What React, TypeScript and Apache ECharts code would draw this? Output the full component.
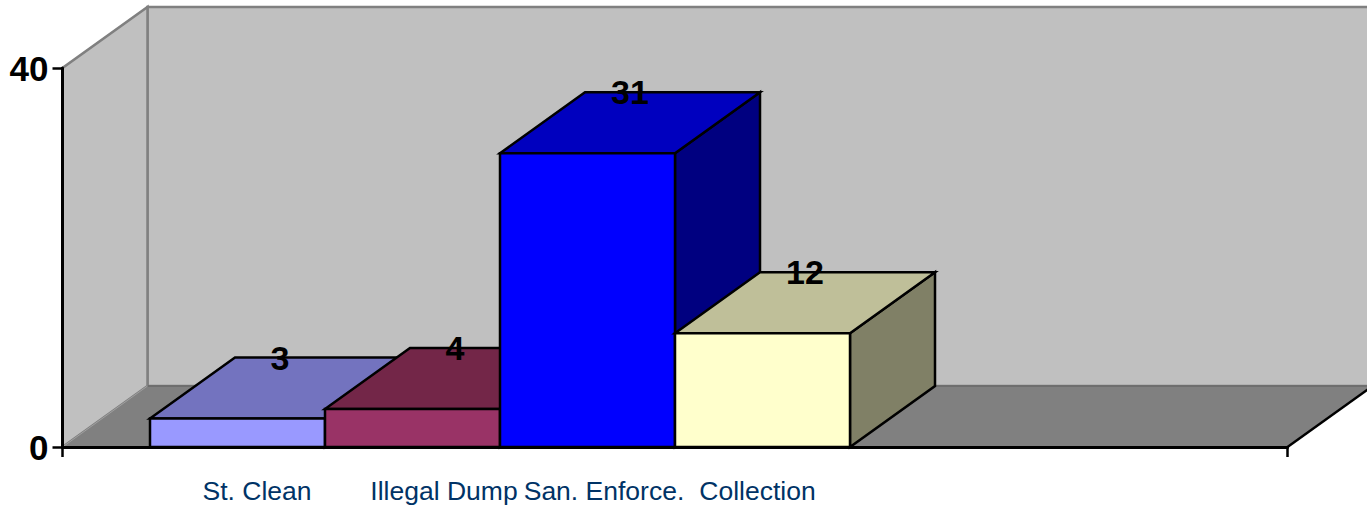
import React, { useEffect, useRef } from "react";
import * as echarts from "echarts";

// Complaint counts by program area
const categories = ["St. Clean", "Illegal Dump", "San. Enforce.", "Collection"];
const counts = [3, 4, 31, 12];
const yTickStep = 40;
const yMax = 40;
const xSlots = 7;

// Face colours of each column: front, top, side
const frontColors = ["#9999FF", "#993366", "#0000FF", "#FFFFCC"];
const topColors = ["#7373BF", "#732648", "#0000BF", "#BFBF99"];
const sideColors = ["#4D4D80", "#4D1A33", "#000080", "#808066"];

// Horizontal shift of each caption from its column centre, in pixels
const captionShifts = [19.5, 31.5, 16.5, -5];

// Oblique projection of the box: how far the back plane sits from the front plane
const DEPTH_X = 85;
const DEPTH_Y = 61;
const FONT = "'Liberation Sans', Arial, sans-serif";

function back(p: number[]) {
  return [p[0] + DEPTH_X, p[1] - DEPTH_Y];
}

function renderWalls(_: any, api: any) {
  const o = api.coord([0, 0]);
  const t = api.coord([0, yMax]);
  const r = api.coord([xSlots, 0]);
  const bo = back(o);
  const bt = back(t);
  const br = back(r);
  const brt = back(api.coord([xSlots, yMax]));
  const wall = { fill: "#C0C0C0", stroke: "#808080", lineWidth: 2.5 };
  return {
    type: "group",
    children: [
      { type: "polygon", shape: { points: [bo, bt, brt, br] }, style: wall },
      { type: "polygon", shape: { points: [o, t, bt, bo] }, style: wall },
      { type: "polygon", shape: { points: [o, bo, br, r] }, style: { fill: "#808080", stroke: null } },
      { type: "line", shape: { x1: bo[0], y1: bo[1], x2: br[0], y2: br[1] }, style: { stroke: "#6E6E6E", lineWidth: 2 } },
      { type: "line", shape: { x1: o[0], y1: o[1], x2: bo[0], y2: bo[1] }, style: { stroke: "#A0A0A0", lineWidth: 1 } },
      { type: "line", shape: { x1: r[0], y1: r[1], x2: br[0], y2: br[1] }, style: { stroke: "#000000", lineWidth: 2.5 } },
    ],
  };
}

function renderColumn(params: any, api: any) {
  const i = params.dataIndex;
  const centre = api.value(0);
  const value = api.value(1);
  const fl = api.coord([centre - 0.5, 0]);
  const fr = api.coord([centre + 0.5, 0]);
  const tl = api.coord([centre - 0.5, value]);
  const tr = api.coord([centre + 0.5, value]);
  const edge = { stroke: "#000000", lineWidth: 2.5, lineJoin: "miter" };
  return {
    type: "group",
    children: [
      { type: "polygon", shape: { points: [fr, tr, back(tr), back(fr)] }, style: { fill: sideColors[i], ...edge } },
      { type: "polygon", shape: { points: [tl, back(tl), back(tr), tr] }, style: { fill: topColors[i], ...edge } },
      { type: "polygon", shape: { points: [fl, tl, tr, fr] }, style: { fill: frontColors[i], ...edge } },
    ],
  };
}

function renderText(params: any, api: any) {
  const i = params.dataIndex;
  const centre = api.value(0);
  const value = api.value(1);
  const top = back(api.coord([centre, value]));
  const foot = api.coord([centre, 0]);
  return {
    type: "group",
    children: [
      {
        type: "text",
        style: {
          // Value sits on the back edge of the column's top face
          x: top[0] - DEPTH_X / 2,
          y: top[1],
          text: String(value),
          fill: "#000000",
          font: `bold 34px ${FONT}`,
          align: "center",
          verticalAlign: "middle",
        },
      },
      {
        type: "text",
        style: {
          x: foot[0] + captionShifts[i],
          y: foot[1] + 44,
          text: categories[i],
          fill: "#003366",
          font: `26.5px ${FONT}`,
          align: "center",
          verticalAlign: "middle",
        },
      },
    ],
  };
}

export default function App() {
  const ref = useRef<HTMLDivElement>(null);

  useEffect(() => {
    if (!ref.current) return;
    const chart = echarts.init(ref.current, undefined, { renderer: "svg" });
    const columnData = counts.map((v, i) => [i + 1, v]);
    chart.setOption({
      animation: false,
      backgroundColor: "#FFFFFF",
      grid: { left: 62.5, right: 79.5, top: 68, bottom: 58 },
      xAxis: {
        type: "value",
        min: 0,
        max: xSlots,
        interval: xSlots,
        z: 5,
        splitLine: { show: false },
        axisLabel: { show: false },
        axisLine: { show: true, lineStyle: { color: "#000000", width: 3 } },
        axisTick: { show: true, length: 10, lineStyle: { color: "#000000", width: 2.5 } },
      },
      yAxis: {
        type: "value",
        min: 0,
        max: yMax,
        interval: yTickStep,
        z: 5,
        splitLine: { show: false },
        axisLine: { show: true, lineStyle: { color: "#000000", width: 3 } },
        axisTick: { show: true, length: 10, lineStyle: { color: "#000000", width: 2.5 } },
        axisLabel: {
          margin: 14,
          color: "#000000",
          fontFamily: FONT,
          fontWeight: "bold",
          fontSize: 35,
          padding: [0, 0, 2, 0],
        },
      },
      series: [
        { type: "custom", z: 2, silent: true, data: [[0, 0]], renderItem: renderWalls },
        { type: "custom", z: 6, silent: true, data: columnData, renderItem: renderColumn },
        { type: "custom", z: 7, silent: true, data: columnData, renderItem: renderText },
      ],
    });
    return () => chart.dispose();
  }, []);

  return <div ref={ref} style={{ position: "fixed", left: 0, top: 0, width: 1367, height: 505 }} />;
}
